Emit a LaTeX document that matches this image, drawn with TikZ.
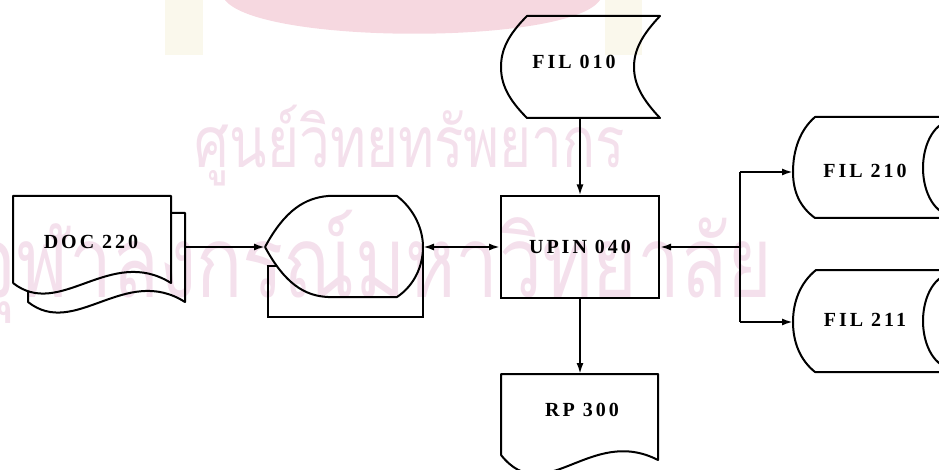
\documentclass[tikz,border=0pt]{standalone}
\usepackage{graphicx}
\usepackage{fontspec}
\setmainfont{Liberation Serif}
\newfontfamily\thaifont[Script=Thai]{Loma}
\newfontfamily\lblfont[LetterSpace=15]{Liberation Serif}
\usetikzlibrary{arrows.meta}
\definecolor{wmpink}{RGB}{244,224,236}
\definecolor{wmred}{RGB}{246,216,224}
\definecolor{wmyel}{RGB}{250,248,236}
\tikzset{
  lbl/.style={font=\lblfont\fontsize{20}{24}\selectfont\bfseries, inner sep=1pt},
  outline/.style={line width=2pt, line join=round},
  conn/.style={line width=2pt},
  arr/.style={conn, -{Latex[length=11pt,width=7pt]}},
  darr/.style={conn, {Latex[length=11pt,width=7pt]}-{Latex[length=11pt,width=7pt]}},
  wmtext/.style={text=wmpink, inner sep=0pt}
}
\begin{document}
\begin{tikzpicture}[x=1pt,y=-1pt]
\useasboundingbox (0,0) rectangle (939,470);
\clip (0,0) rectangle (939,470);
% watermark
\fill[wmyel] (165,0) rectangle (203,55);
\fill[wmyel] (605,0) rectangle (642,55);
\fill[wmred] (225,0) .. controls (260,45) and (570,45) .. (600,0) -- cycle;
\node[wmtext] (wm1) at (410,146) {\scalebox{1}[1.3]{\resizebox{430pt}{!}{\thaifont ศูนย์วิทยทรัพยากร}}};
\node[wmtext] (wm2) at (372,267) {\scalebox{1}[1.3]{\resizebox{800pt}{!}{\thaifont จุฬาลงกรณ์มหาวิทยาลัย}}};
% DOC 220 (document with second sheet)
\draw[outline] (171,213) -- (185,213) -- (185,302)
  .. controls (125,264) and (75,339) .. (28,302) -- (28,291);
\draw[outline] (13,283) -- (13,196) -- (171,196) -- (171,283)
  .. controls (110,245) and (60,320) .. (13,283);
\node[lbl] (doc) at (91,242) {DOC 220};
\coordinate (docR) at (185,247);
% online display
\draw[outline] (265,247) .. controls (285,210) and (305,198) .. (328,196) -- (397,196)
  .. controls (415,210) and (423,230) .. (423,247)
  .. controls (423,265) and (415,285) .. (397,297) -- (328,297)
  .. controls (305,296) and (285,284) .. (265,247);
\coordinate (dispL) at (265,247);
\coordinate (dispR) at (423,247);
\coordinate (loopS) at (276,266);
\coordinate (loopBL) at (268,317);
\draw[conn] (loopS) -| (loopBL) -| (dispR);
% UPIN 040
\node[lbl, draw, line width=2pt, minimum width=158pt, minimum height=101pt, inner sep=0pt] (upin) at (580,247) {UPIN 040};
% FIL 010
\draw[outline] (527,16) -- (660,16)
  .. controls (642,35) and (634,50) .. (634,67)
  .. controls (634,84) and (642,99) .. (660,118) -- (527,118)
  .. controls (508,99) and (501,84) .. (501,67)
  .. controls (501,50) and (508,35) .. (527,16) -- cycle;
\node[lbl] (f010) at (574,62) {FIL 010};
\coordinate (f010b) at (580,118);
% RP 300
\draw[outline] (501,455) -- (501,374) -- (658,374) -- (658,460)
  .. controls (590,425) and (545,510) .. (501,455);
\node[lbl] (rp) at (582,410) {RP 300};
\coordinate (rpT) at (580,374);
% FIL 210
\draw[outline] (945,117) -- (815,117)
  .. controls (800,130) and (793,150) .. (793,172)
  .. controls (793,192) and (800,207) .. (815,218) -- (945,218);
\draw[outline] (952,168) ellipse [x radius=29, y radius=47];
\node[lbl] (f210) at (865,171) {FIL 210};
\coordinate (f210L) at (793,172);
% FIL 211
\draw[outline] (945,270) -- (816,270)
  .. controls (800,283) and (793,302) .. (793,322)
  .. controls (793,342) and (800,360) .. (815,372) -- (945,372);
\draw[outline] (952,321) ellipse [x radius=29, y radius=47];
\node[lbl] (f211) at (865,320) {FIL 211};
\coordinate (f211L) at (793,322);
% connectors
\draw[arr] (docR) -- (dispL);
\draw[darr] (dispR) -- (upin.west);
\draw[arr] (f010b) -- (upin.north);
\draw[arr] (upin.south) -- (rpT);
\coordinate (jT) at (740,172);
\coordinate (jM) at (740,247);
\coordinate (jB) at (740,322);
\draw[conn] (jT) -- (jB);
\draw[arr] (jM) -- (upin.east);
\draw[arr] (jT) -- (f210L);
\draw[arr] (jB) -- (f211L);
\end{tikzpicture}
\end{document}
